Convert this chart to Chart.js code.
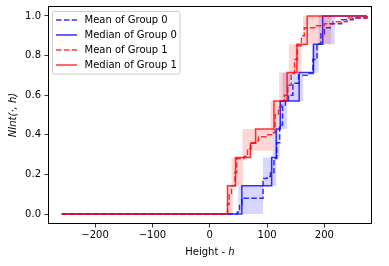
<!DOCTYPE html>
<html>
<head>
<meta charset="utf-8">
<script src="https://cdn.jsdelivr.net/npm/chart.js@4.4.0/dist/chart.umd.min.js"></script>
<style>
  html, body { margin: 0; padding: 0; background: #fff; }
</style>
</head>
<body>
<canvas id="chart" width="389" height="266"></canvas>
<script>
// axis ticks
const xTicks = [-200, -100, 0, 100, 200];
const yTicks = [0, 0.2, 0.4, 0.6, 0.8, 1.0];

// Group 0 (blue)
const mean0X = [-258, 48, 52, 56, 93, 100, 106, 112, 117, 122, 127, 132, 137, 145, 155, 170, 180, 187, 194, 200, 210, 230, 250, 274];
const mean0Y = [0, 0.01, 0.05, 0.08, 0.18, 0.19, 0.21, 0.28, 0.36, 0.45, 0.55, 0.57, 0.60, 0.66, 0.70, 0.71, 0.78, 0.86, 0.91, 0.94, 0.96, 0.98, 0.99, 1.0];
const median0X = [-258, 56, 108, 116, 123, 156, 181, 197, 274];
const median0Y = [0, 0.143, 0.286, 0.429, 0.571, 0.714, 0.857, 1.0, 1.0];
const upper0X = [-258, 50, 93, 110, 120, 127, 178, 190, 274];
const upper0Y = [0, 0.143, 0.286, 0.429, 0.571, 0.714, 0.857, 1.0, 1.0];
const lower0X = [-258, 93, 116, 122, 135, 163, 190, 218, 274];
const lower0Y = [0, 0.143, 0.286, 0.429, 0.571, 0.714, 0.857, 1.0, 1.0];

// Group 1 (red)
const mean1X = [-258, 31, 34, 38, 44, 47, 60, 66, 72, 80, 85, 98, 110, 114, 120, 125, 130, 136, 142, 148, 153, 160, 165, 185, 200, 215, 240, 274];
const mean1Y = [0, 0.05, 0.10, 0.143, 0.21, 0.28, 0.29, 0.33, 0.36, 0.37, 0.39, 0.40, 0.41, 0.50, 0.54, 0.57, 0.60, 0.65, 0.71, 0.78, 0.85, 0.90, 0.94, 0.95, 0.96, 0.97, 0.99, 1.0];
const median1X = [-258, 31, 45, 71, 80, 112, 135, 152, 170, 274];
const median1Y = [0, 0.143, 0.286, 0.357, 0.429, 0.571, 0.714, 0.857, 1.0, 1.0];
const upper1X = [-258, 31, 38, 57, 106, 121, 138, 163, 274];
const upper1Y = [0, 0.143, 0.286, 0.429, 0.571, 0.714, 0.857, 1.0, 1.0];
const lower1X = [-258, 40, 58, 72, 110, 120, 140, 160, 212, 274];
const lower1Y = [0, 0.143, 0.286, 0.32, 0.429, 0.571, 0.714, 0.857, 1.0, 1.0];

const legendLabels = ['Mean of Group 0', 'Median of Group 0', 'Mean of Group 1', 'Median of Group 1'];

const BLUE = 'rgba(0,0,255,0.8)';
const RED = 'rgba(255,0,0,0.8)';
const BLUE_FILL = 'rgba(0,0,255,0.16)';
const RED_FILL = 'rgba(255,0,0,0.16)';
const DASH = [5.5, 2.4];
const FONT = '"DejaVu Sans", sans-serif';

function pts(xs, ys) {
    return xs.map((x, i) => ({ x: x, y: ys[i] }));
}

function lineSet(xs, ys, color, dash, order) {
    return {
        data: pts(xs, ys),
        borderColor: color,
        borderWidth: 1.5,
        borderDash: dash,
        pointRadius: 0,
        stepped: 'before',
        fill: false,
        order: order
    };
}

function bandSet(xs, ys, color, fillTarget, order) {
    return {
        data: pts(xs, ys),
        borderWidth: 0,
        borderColor: 'rgba(0,0,0,0)',
        backgroundColor: color,
        pointRadius: 0,
        stepped: 'before',
        fill: fillTarget,
        order: order
    };
}

// frame, titles and legend drawn matplotlib style
const decor = {
    id: 'decor',
    afterDraw(chart) {
        const ctx = chart.ctx;
        const a = chart.chartArea;
        ctx.save();
        ctx.strokeStyle = '#000';
        ctx.lineWidth = 1;
        ctx.strokeRect(Math.round(a.left) + 0.5, Math.round(a.top) + 0.5,
            Math.round(a.right - a.left) - 1, Math.round(a.bottom - a.top) - 1);

        // x title: "Height - h" with italic h
        ctx.fillStyle = '#000';
        ctx.textBaseline = 'middle';
        ctx.font = '10px ' + FONT;
        const part1 = 'Height - ';
        const w1 = ctx.measureText(part1).width;
        ctx.font = 'italic 10px ' + FONT;
        const w2 = ctx.measureText('h').width;
        const cx = (a.left + a.right) / 2;
        let x0 = cx - (w1 + w2) / 2;
        ctx.textAlign = 'left';
        ctx.font = '10px ' + FONT;
        ctx.fillText(part1, x0, 252);
        ctx.font = 'italic 10px ' + FONT;
        ctx.fillText('h', x0 + w1, 252);

        // y title
        ctx.save();
        ctx.translate(13, (a.top + a.bottom) / 2);
        ctx.rotate(-Math.PI / 2);
        ctx.textAlign = 'center';
        ctx.font = 'italic 10px ' + FONT;
        ctx.fillText('NInt(\u00b7, h)', 0, 0);
        ctx.restore();

        // legend box
        const bx = 52.5, by = 11.5, bw = 127.5, bh = 62.5;
        ctx.fillStyle = 'rgba(255,255,255,0.8)';
        ctx.strokeStyle = '#cccccc';
        ctx.lineWidth = 1;
        ctx.beginPath();
        if (ctx.roundRect) ctx.roundRect(bx, by, bw, bh, 2); else ctx.rect(bx, by, bw, bh);
        ctx.fill();
        ctx.stroke();
        const colors = [BLUE, BLUE, RED, RED];
        const dashes = [DASH, [], DASH, []];
        const rowsY = [20, 35, 50, 65];
        ctx.font = '10px ' + FONT;
        ctx.textAlign = 'left';
        ctx.textBaseline = 'middle';
        for (let i = 0; i < legendLabels.length; i++) {
            ctx.strokeStyle = colors[i];
            ctx.lineWidth = 1.5;
            ctx.setLineDash(dashes[i]);
            ctx.beginPath();
            ctx.moveTo(56, rowsY[i]);
            ctx.lineTo(77, rowsY[i]);
            ctx.stroke();
            ctx.setLineDash([]);
            ctx.fillStyle = '#000';
            ctx.fillText(legendLabels[i], 84.5, rowsY[i] + 0.5);
        }
        ctx.restore();
    }
};

new Chart(document.getElementById('chart').getContext('2d'), {
    type: 'line',
    data: {
        datasets: [
            lineSet(mean0X, mean0Y, BLUE, DASH, 5),
            lineSet(median0X, median0Y, BLUE, [], 4),
            lineSet(mean1X, mean1Y, RED, DASH, 2),
            lineSet(median1X, median1Y, RED, [], 1),
            bandSet(upper0X, upper0Y, BLUE_FILL, '+1', 6),
            bandSet(lower0X, lower0Y, BLUE_FILL, false, 6),
            bandSet(upper1X, upper1Y, RED_FILL, '+1', 3),
            bandSet(lower1X, lower1Y, RED_FILL, false, 3)
        ]
    },
    options: {
        responsive: false,
        animation: false,
        layout: { padding: { left: 0, right: 17, top: 6, bottom: 0 } },
        plugins: {
            legend: { display: false },
            tooltip: { enabled: false }
        },
        scales: {
            x: {
                type: 'linear',
                min: -282,
                max: 283,
                afterFit: s => { s.height = 42; s.paddingLeft = 0; s.paddingRight = 0; },
                afterBuildTicks: s => { s.ticks = xTicks.map(v => ({ value: v })); },
                border: { display: false },
                grid: { drawOnChartArea: false, drawTicks: true, tickLength: 3.5, color: '#000', lineWidth: 0.8 },
                ticks: {
                    padding: 2,
                    maxRotation: 0,
                    color: '#000',
                    font: { family: FONT, size: 10 },
                    callback: v => v < 0 ? '\u2212' + Math.abs(v) : String(v)
                }
            },
            y: {
                type: 'linear',
                min: -0.05,
                max: 1.05,
                afterFit: s => { s.width = 48; s.paddingTop = 0; s.paddingBottom = 0; },
                afterBuildTicks: s => { s.ticks = yTicks.map(v => ({ value: v })); },
                border: { display: false },
                grid: { drawOnChartArea: false, drawTicks: true, tickLength: 3.5, color: '#000', lineWidth: 0.8 },
                ticks: {
                    padding: 3.5,
                    color: '#000',
                    font: { family: FONT, size: 10 },
                    callback: v => v.toFixed(1)
                }
            }
        }
    },
    plugins: [decor]
});
</script>
</body>
</html>
